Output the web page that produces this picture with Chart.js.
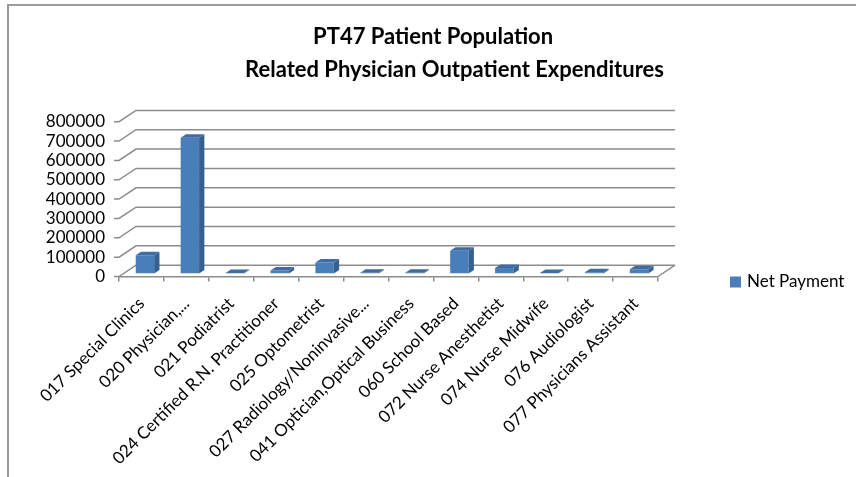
<!DOCTYPE html>
<html>
<head>
<meta charset="utf-8">
<script src="https://cdn.jsdelivr.net/npm/chart.js@4.4.1/dist/chart.umd.min.js"></script>
<style>
  body { margin: 0; background: #fff; overflow: hidden; }
  #wrap { position: relative; width: 856px; height: 477px; overflow: hidden; }
  #frame { position: absolute; left: 7px; top: 4px; width: 900px; height: 520px;
           border-top: 2px solid #9a9a9a; border-left: 2px solid #9a9a9a; }
  canvas { position: absolute; left: 0; top: 0; }
</style>
</head>
<body>
<div id="wrap">
  <div id="frame"></div>
  <canvas id="expChart" width="856" height="477"></canvas>
</div>
<script>
var categories = [
  '017 Special Clinics',
  '020 Physician,...',
  '021 Podiatrist',
  '024 Certified R.N. Practitioner',
  '025 Optometrist',
  '027 Radiology/Noninvasive...',
  '041 Optician,Optical Business',
  '060 School Based',
  '072 Nurse Anesthetist',
  '074 Nurse Midwife',
  '076 Audiologist',
  '077 Physicians Assistant'
];
var netPayment = [94000, 702000, 2000, 15000, 57000, 4000, 4000, 118000, 28000, 2000, 6000, 22000];
var yMin = 0, yMax = 800000, yStep = 100000;
var titleLines = ['PT47 Patient Population\u00a0\u00a0\u00a0\u00a0\u00a0\u00a0\u00a0\u00a0', 'Related Physician Outpatient Expenditures'];

var gridColor = '#8c8c8c';
var frontColor = '#4a7ebb', sideColor = '#35608f', topColor = '#3f6ca3';
var depthX = 17, depthY = 11.3;      // depth of the floor / walls
var shiftX = 3.5, shiftY = 3;        // bars sit a bit inside the floor
var barDX = 5.3, barDY = 3.5;        // depth of each column

// back wall, left wall and floor edge, then 3d faces of the columns
var box3d = {
  id: 'box3d',
  beforeDatasetsDraw: function(chart) {
    var ctx = chart.ctx, a = chart.chartArea, y = chart.scales.y;
    ctx.save();
    ctx.strokeStyle = gridColor;
    ctx.lineWidth = 1.5;
    y.ticks.forEach(function(t) {
      var py = y.getPixelForValue(t.value);
      ctx.beginPath();
      ctx.moveTo(a.left - 5, py);
      ctx.lineTo(a.left, py);
      ctx.lineTo(a.left + depthX, py - depthY);
      ctx.lineTo(a.right + depthX, py - depthY);
      ctx.stroke();
    });
    ctx.beginPath();
    ctx.moveTo(a.right, a.bottom);
    ctx.lineTo(a.right + depthX, a.bottom - depthY);
    ctx.stroke();
    ctx.restore();
    ctx.save();
    ctx.translate(shiftX, -shiftY);
  },
  afterDatasetsDraw: function(chart) {
    var ctx = chart.ctx;
    chart.getDatasetMeta(0).data.forEach(function(bar) {
      var l = bar.x - bar.width / 2, r = bar.x + bar.width / 2, t = bar.y, b = bar.base;
      ctx.fillStyle = sideColor;
      ctx.beginPath();
      ctx.moveTo(r, t);
      ctx.lineTo(r + barDX, t - barDY);
      ctx.lineTo(r + barDX, b - barDY);
      ctx.lineTo(r, b);
      ctx.closePath();
      ctx.fill();
      ctx.fillStyle = topColor;
      ctx.beginPath();
      ctx.moveTo(l, t);
      ctx.lineTo(r, t);
      ctx.lineTo(r + barDX, t - barDY);
      ctx.lineTo(l + barDX, t - barDY);
      ctx.closePath();
      ctx.fill();
    });
    ctx.restore();
  }
};

var sideLegend = {
  id: 'sideLegend',
  afterDraw: function(chart) {
    var ctx = chart.ctx, ds = chart.data.datasets[0];
    var x = chart.width - 126, y = 282;
    ctx.save();
    ctx.fillStyle = ds.backgroundColor;
    ctx.fillRect(x, y - 5.5, 11, 11);
    ctx.fillStyle = '#000';
    ctx.font = '17px Lato';
    ctx.textBaseline = 'middle';
    ctx.fillText(ds.label, x + 17, y);
    ctx.restore();
  }
};

var ctx = document.getElementById('expChart').getContext('2d');
var expChart = new Chart(ctx, {
  type: 'bar',
  data: {
    labels: categories,
    datasets: [{
      label: 'Net Payment',
      data: netPayment,
      backgroundColor: frontColor,
      barPercentage: 0.41,
      categoryPercentage: 1.0
    }]
  },
  options: {
    responsive: false,
    animation: false,
    layout: { padding: { left: 40, top: 0, right: -13, bottom: 0 } },
    plugins: {
      legend: { display: false },
      tooltip: { enabled: false },
      title: {
        display: true,
        text: titleLines,
        color: '#000',
        font: { family: 'Lato', size: 22, weight: 'bold', lineHeight: 1.5 },
        padding: { top: 20.5, bottom: 35.2 }
      }
    },
    scales: {
      x: {
        grid: { display: true, drawOnChartArea: false, drawTicks: true, tickLength: 5, color: gridColor, lineWidth: 1.5 },
        border: { display: true, color: gridColor, width: 1.5 },
        ticks: { color: '#000', font: { family: 'Lato', size: 17 }, minRotation: 45, maxRotation: 45, autoSkip: false, padding: 12 },
        afterFit: function(s) { s.height = 200.5; }
      },
      y: {
        min: yMin,
        max: yMax,
        grid: { display: false, drawTicks: false },
        border: { display: false },
        ticks: {
          stepSize: yStep, autoSkip: false, color: '#000', font: { family: 'Lato', size: 17 }, padding: 14,
          callback: function(v) { return String(v); }
        },
        afterFit: function(s) { s.width = 79; }
      },
      // empty axis on the right, only keeps room for the legend
      y2: {
        type: 'linear',
        position: 'right',
        display: true,
        grid: { display: false, drawTicks: false },
        border: { display: false },
        ticks: { display: false },
        afterFit: function(s) { s.width = 211; }
      }
    }
  },
  plugins: [box3d, sideLegend]
});
</script>
</body>
</html>
